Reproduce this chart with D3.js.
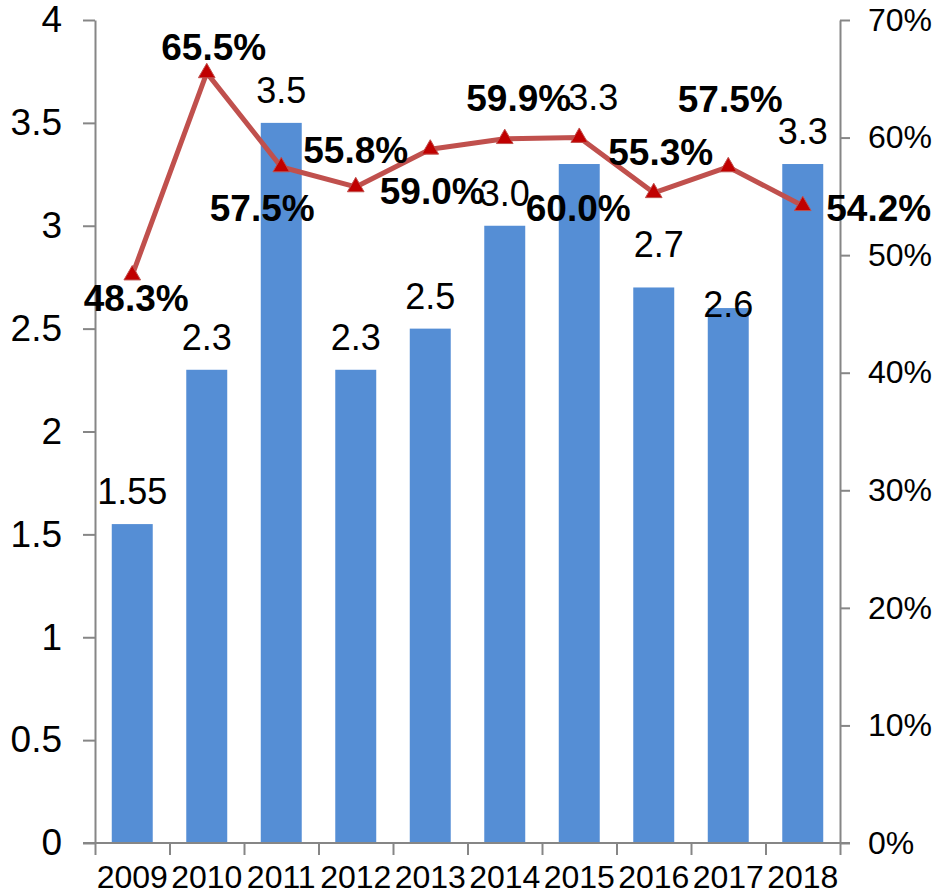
<!DOCTYPE html>
<html>
<head>
<meta charset="utf-8">
<script src="https://cdn.jsdelivr.net/npm/d3@7"></script>
<style>
  html, body { margin: 0; padding: 0; background: #fff; }
  svg text { font-family: "Liberation Sans", Arial, sans-serif; }
</style>
</head>
<body>
<svg id="chart" width="935" height="895"></svg>
<script>
// ---- data ----
const years = ["2009","2010","2011","2012","2013","2014","2015","2016","2017","2018"];
const barValues = [1.55, 2.3, 3.5, 2.3, 2.5, 3.0, 3.3, 2.7, 2.6, 3.3];
const barLabels = ["1.55","2.3","3.5","2.3","2.5","3.0","3.3","2.7","2.6","3.3"];
const ratioValues = [0.483, 0.655, 0.575, 0.558, 0.590, 0.599, 0.600, 0.553, 0.575, 0.542];
const leftTicks = [0, 0.5, 1, 1.5, 2, 2.5, 3, 3.5, 4];
const rightTicks = [0, 0.1, 0.2, 0.3, 0.4, 0.5, 0.6, 0.7];

// ---- layout (label nudges, pixels) ----
const barLabelNudge = [[0,0],[0,0],[0,0],[0,0],[0,0],[0,0],[14,-34],[5,-10],[0,29],[0,0]];
const pctLabelOffset = [[4,36],[7,-13],[-19,54],[0,-24],[2,55],[14,-28],[-1,83],[7,-28],[2,-55],[76,15]];

const svg = d3.select("#chart");
const L = 95, R = 840, T = 20, B = 843;

const x = d3.scaleBand().domain(years).range([L, R]).paddingInner(0.45).paddingOuter(0.225);
const xi = d3.scaleLinear().domain([0, years.length]).range([L, R]);
const yL = d3.scaleLinear().domain([0, 4]).range([B, T]);
const yR = d3.scaleLinear().domain([0, 0.7]).range([B, T]);

const axisColor = "#868686";

// bars
svg.append("g").selectAll("rect").data(barValues).join("rect")
  .attr("x", (d, i) => x(years[i]))
  .attr("y", d => yL(d))
  .attr("width", x.bandwidth())
  .attr("height", d => yL(0) - yL(d))
  .attr("fill", "#558ED5");

// left axis
const gL = svg.append("g").attr("transform", `translate(${L},0)`)
  .call(d3.axisLeft(yL).tickValues(leftTicks).tickFormat(d => String(d)).tickSize(12).tickSizeOuter(0).tickPadding(21));
// right axis
const gR = svg.append("g").attr("transform", `translate(${R},0)`)
  .call(d3.axisRight(yR).tickValues(rightTicks).tickFormat(d3.format(".0%")).tickSize(10).tickSizeOuter(0).tickPadding(18));
// bottom ticks
const gB = svg.append("g").attr("transform", `translate(0,${B})`)
  .call(d3.axisBottom(xi).tickValues(d3.range(years.length + 1)).tickFormat("").tickSize(12).tickSizeOuter(0));
gB.select(".domain").remove();
svg.append("line").attr("x1", L - 12).attr("x2", R + 10).attr("y1", B).attr("y2", B)
  .attr("stroke", axisColor).attr("stroke-width", 2);
// bottom labels
const gBL = svg.append("g").attr("transform", `translate(0,${B})`)
  .call(d3.axisBottom(x).tickSize(0).tickPadding(22));
gBL.select(".domain").remove();

[gL, gR, gB].forEach(g => {
  g.select(".domain").attr("stroke", axisColor).attr("stroke-width", 2);
  g.selectAll(".tick line").attr("stroke", axisColor).attr("stroke-width", 2);
});
[gL, gR, gBL].forEach(g => {
  g.selectAll(".tick text").attr("fill", "#000")
    .style("font-family", "'Liberation Sans', Arial, sans-serif");
});
gL.selectAll(".tick text").style("font-size", "37px");
gR.selectAll(".tick text").style("font-size", "32px");
gBL.selectAll(".tick text").style("font-size", "32px");

// bar value labels
svg.append("g").selectAll("text").data(barValues).join("text")
  .attr("transform", (d, i) => `translate(${x(years[i]) + x.bandwidth() / 2 + barLabelNudge[i][0]},${yL(d) - 20 + barLabelNudge[i][1]})`)
  .attr("text-anchor", "middle")
  .style("font-size", "36px")
  .attr("fill", "#000")
  .text((d, i) => barLabels[i]);

// line
const cx = i => x(years[i]) + x.bandwidth() / 2;
const line = d3.line().x((d, i) => cx(i)).y(d => yR(d));
svg.append("path").datum(ratioValues)
  .attr("d", line).attr("fill", "none")
  .attr("stroke", "#C0504D").attr("stroke-width", 5).attr("stroke-linejoin", "round");

// markers
const tri = d3.symbol().type(d3.symbolTriangle).size(120);
svg.append("g").selectAll("path").data(ratioValues).join("path")
  .attr("d", tri)
  .attr("transform", (d, i) => `translate(${cx(i)},${yR(d)})`)
  .attr("fill", "#C00000").attr("stroke", "#C0504D").attr("stroke-width", 1);

// percent labels
svg.append("g").selectAll("text").data(ratioValues).join("text")
  .attr("transform", (d, i) => `translate(${cx(i) + pctLabelOffset[i][0]},${yR(d) + pctLabelOffset[i][1]})`)
  .attr("text-anchor", "middle")
  .style("font-size", "37px").style("font-weight", "bold")
  .attr("fill", "#000")
  .text(d => d3.format(".1%")(d));
</script>
</body>
</html>
